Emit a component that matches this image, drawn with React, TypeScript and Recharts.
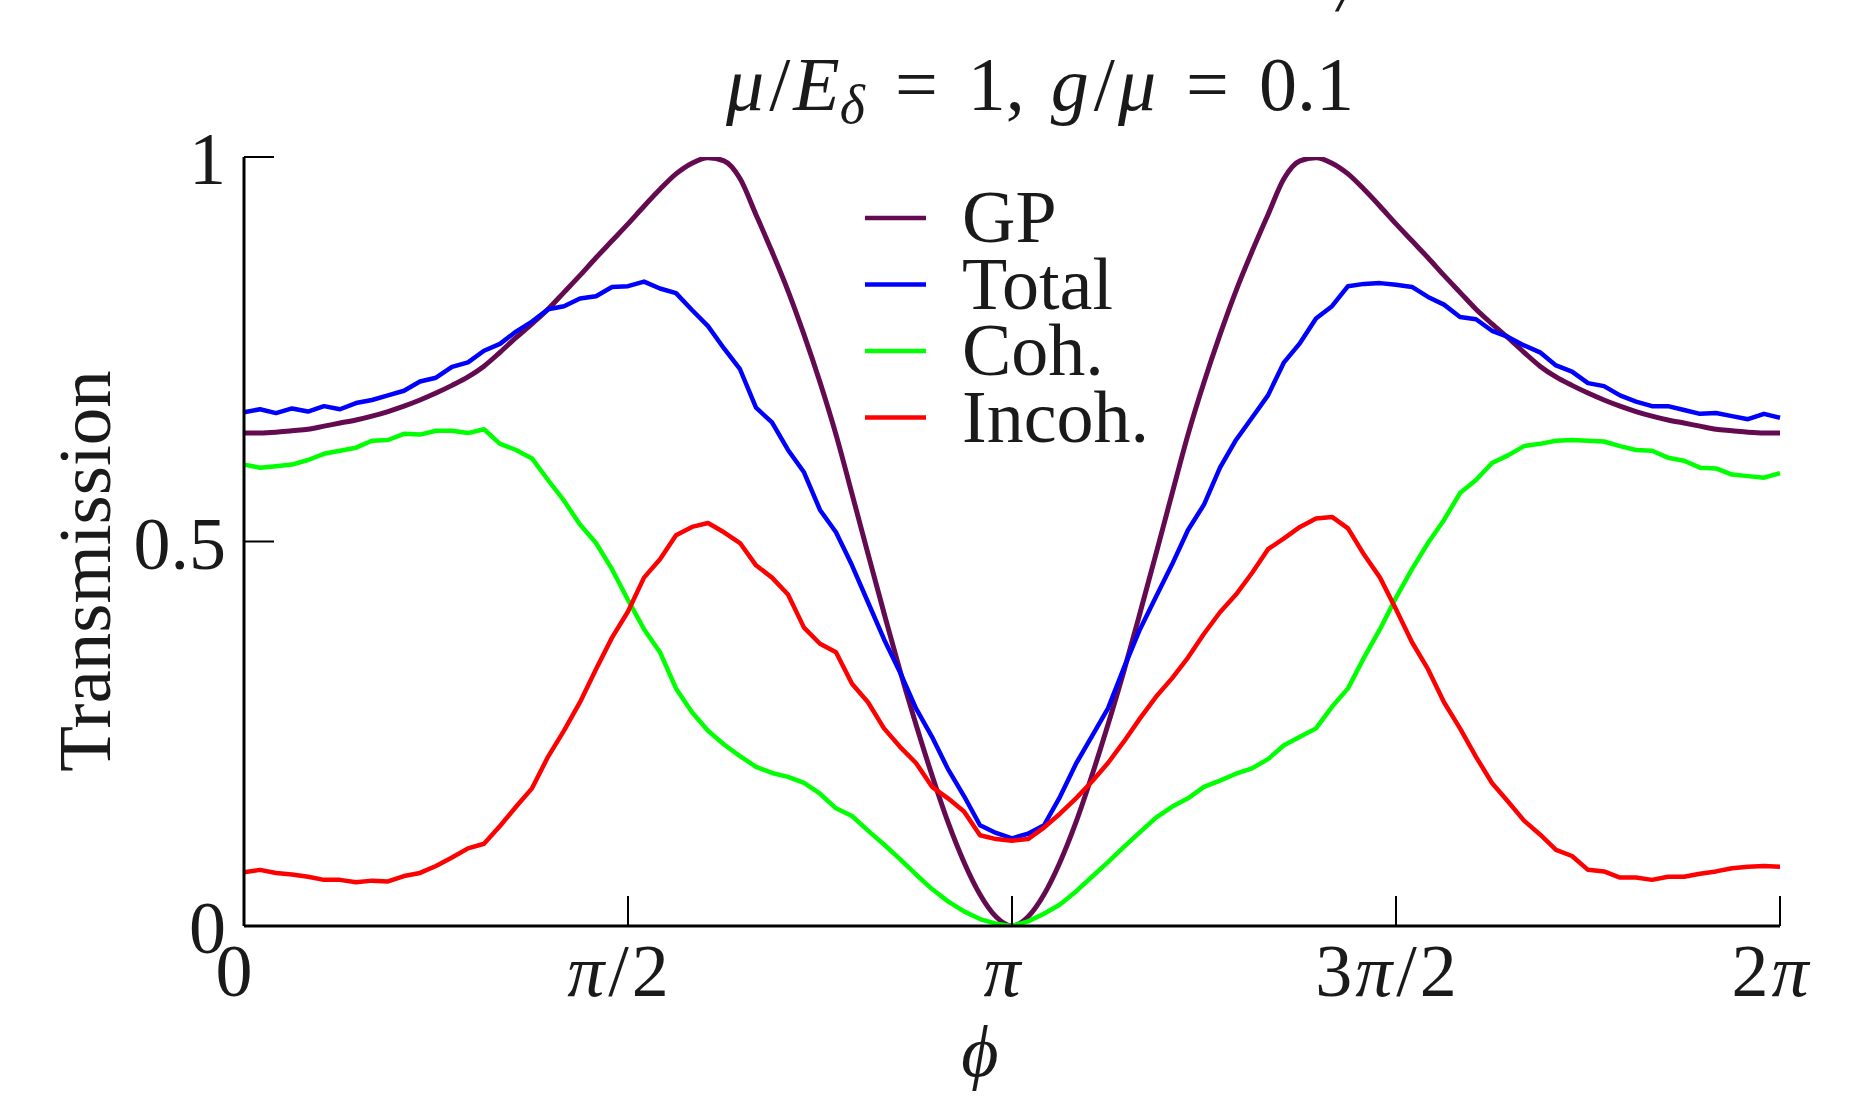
import { LineChart, Line, XAxis, YAxis, Legend } from 'recharts';

const FONT = '"Liberation Serif", "DejaVu Serif", serif';
const INK = '#1a1a1a';

// phase phi, in units of pi (0 .. 2)
const phi = Array.from({ length: 97 }, (_, i) => i / 48);

const gp = [
  0.641, 0.641, 0.642, 0.644, 0.646, 0.650, 0.654, 0.658, 0.663, 0.669,
  0.676, 0.684, 0.693, 0.703, 0.714, 0.728, 0.746, 0.765, 0.783, 0.802,
  0.824, 0.846, 0.869, 0.891, 0.913, 0.936, 0.958, 0.978, 0.992, 0.999,
  0.995, 0.972, 0.925, 0.877, 0.826, 0.769, 0.707, 0.639, 0.562, 0.484,
  0.407, 0.332, 0.262, 0.196, 0.135, 0.083, 0.041, 0.012, 0.000, 0.012,
  0.041, 0.083, 0.135, 0.196, 0.262, 0.332, 0.407, 0.484, 0.562, 0.639,
  0.707, 0.769, 0.826, 0.877, 0.925, 0.972, 0.995, 0.999, 0.992, 0.978,
  0.958, 0.936, 0.913, 0.891, 0.869, 0.846, 0.824, 0.802, 0.783, 0.765,
  0.746, 0.728, 0.714, 0.703, 0.693, 0.684, 0.676, 0.669, 0.663, 0.658,
  0.654, 0.650, 0.646, 0.644, 0.642, 0.641, 0.641,
];

const total = [
  0.668, 0.672, 0.667, 0.673, 0.669, 0.676, 0.672, 0.680, 0.684, 0.690,
  0.696, 0.708, 0.713, 0.727, 0.733, 0.748, 0.757, 0.773, 0.786, 0.802,
  0.806, 0.816, 0.819, 0.831, 0.832, 0.838, 0.829, 0.823, 0.801, 0.780,
  0.751, 0.724, 0.674, 0.655, 0.619, 0.590, 0.541, 0.512, 0.469, 0.421,
  0.373, 0.330, 0.283, 0.246, 0.204, 0.169, 0.131, 0.121, 0.114, 0.120,
  0.131, 0.168, 0.211, 0.247, 0.283, 0.336, 0.386, 0.428, 0.470, 0.515,
  0.548, 0.596, 0.632, 0.661, 0.690, 0.733, 0.758, 0.790, 0.806, 0.832,
  0.835, 0.836, 0.834, 0.831, 0.818, 0.808, 0.792, 0.789, 0.774, 0.766,
  0.755, 0.746, 0.729, 0.721, 0.706, 0.702, 0.690, 0.682, 0.676, 0.676,
  0.671, 0.666, 0.667, 0.663, 0.659, 0.666, 0.661,
];

const coh = [
  0.600, 0.596, 0.598, 0.600, 0.606, 0.614, 0.618, 0.622, 0.631, 0.632,
  0.640, 0.639, 0.644, 0.644, 0.641, 0.646, 0.627, 0.619, 0.608, 0.580,
  0.553, 0.522, 0.498, 0.464, 0.424, 0.386, 0.356, 0.309, 0.278, 0.254,
  0.236, 0.221, 0.207, 0.199, 0.194, 0.186, 0.172, 0.153, 0.143, 0.124,
  0.106, 0.087, 0.067, 0.048, 0.032, 0.019, 0.009, 0.003, 0.000, 0.006,
  0.016, 0.028, 0.045, 0.064, 0.083, 0.103, 0.122, 0.141, 0.155, 0.166,
  0.181, 0.189, 0.198, 0.205, 0.217, 0.235, 0.246, 0.257, 0.285, 0.309,
  0.349, 0.386, 0.427, 0.464, 0.498, 0.528, 0.563, 0.580, 0.602, 0.612,
  0.624, 0.627, 0.631, 0.632, 0.631, 0.630, 0.624, 0.619, 0.618, 0.609,
  0.605, 0.596, 0.595, 0.587, 0.585, 0.583, 0.589,
];

const incoh = [
  0.070, 0.073, 0.069, 0.067, 0.064, 0.060, 0.060, 0.057, 0.059, 0.058,
  0.065, 0.069, 0.078, 0.089, 0.101, 0.107, 0.130, 0.155, 0.179, 0.220,
  0.254, 0.291, 0.334, 0.375, 0.409, 0.453, 0.477, 0.508, 0.519, 0.524,
  0.512, 0.498, 0.469, 0.453, 0.431, 0.388, 0.367, 0.356, 0.315, 0.291,
  0.257, 0.233, 0.212, 0.181, 0.166, 0.149, 0.118, 0.113, 0.111, 0.113,
  0.128, 0.146, 0.166, 0.188, 0.212, 0.240, 0.270, 0.298, 0.322, 0.349,
  0.380, 0.408, 0.431, 0.459, 0.490, 0.504, 0.519, 0.530, 0.532, 0.517,
  0.483, 0.453, 0.412, 0.369, 0.334, 0.291, 0.257, 0.220, 0.186, 0.162,
  0.137, 0.119, 0.099, 0.091, 0.073, 0.071, 0.063, 0.063, 0.060, 0.064,
  0.064, 0.068, 0.071, 0.075, 0.077, 0.078, 0.077,
];

const xTicks = [0, 0.5, 1, 1.5, 2];
const xTickLabels = ['0', 'π/2', 'π', '3π/2', '2π'];
const yTicks = [0, 0.5, 1];
const yTickLabels = ['0', '0.5', '1'];

const series = [
  { key: 'gp', name: 'GP', color: '#640a50', width: 5 },
  { key: 'total', name: 'Total', color: '#0000ff', width: 4.5 },
  { key: 'coh', name: 'Coh.', color: '#00ff00', width: 4.5 },
  { key: 'incoh', name: 'Incoh.', color: '#ff0000', width: 4.5 },
];

const rows = phi.map((p, i) => ({ phi: p, gp: gp[i], total: total[i], coh: coh[i], incoh: incoh[i] }));

// pi in math italic, the rest upright; a little room round the slash
const mathLabel = (s: string) =>
  s.split(/(π|\/)/).filter(Boolean).map((part, i) => (
    <tspan key={i} fontStyle={part === 'π' ? 'italic' : 'normal'} dx={part === '/' ? 4 : i > 0 ? 3 : 0}>{part}</tspan>
  ));

const BottomTick = (props: any) => {
  const { x, y, payload } = props;
  const label = xTickLabels[xTicks.indexOf(payload.value)];
  return (
    <g>
      <line x1={x} y1={y} x2={x} y2={y - 30} stroke="#000" strokeWidth={2} />
      <text x={x - 10} y={y + 70} textAnchor="middle" fontSize={74} fontFamily={FONT} fill={INK}>
        {mathLabel(label)}
      </text>
    </g>
  );
};

const TopTick = (props: any) => {
  const { x, y } = props;
  return <line x1={x} y1={y} x2={x} y2={y + 30} stroke="#000" strokeWidth={2} />;
};

const LeftTick = (props: any) => {
  const { x, y, payload } = props;
  const label = yTickLabels[yTicks.indexOf(payload.value)];
  return (
    <g>
      <line x1={x} y1={y} x2={x + 30} y2={y} stroke="#000" strokeWidth={2} />
      <text x={x - 18} y={y + 27} textAnchor="end" fontSize={74} fontFamily={FONT} fill={INK}>
        {label}
      </text>
    </g>
  );
};

const RightTick = (props: any) => {
  const { x, y } = props;
  return <line x1={x} y1={y} x2={x - 30} y2={y} stroke="#000" strokeWidth={2} />;
};

const order = series.map((s) => s.name);

const KeyBox = ({ payload }: any) => {
  const items = [...(payload || [])].sort((a: any, b: any) => order.indexOf(a.value) - order.indexOf(b.value));
  return (
    <svg width={360} height={340}>
      {items.map((item: any, i: number) => {
        const cy = 68 + i * 66.5;
        return (
          <g key={item.value}>
            <line x1={15} y1={cy} x2={76} y2={cy} stroke={item.color} strokeWidth={4.5} />
            <text x={112} y={cy + 24} fontSize={74} fontFamily={FONT} fill={INK}>{item.value}</text>
          </g>
        );
      })}
    </svg>
  );
};

const axisStroke = { stroke: '#000', strokeWidth: 3 };

export default function App() {
  return (
    <div style={{ position: 'absolute', left: 0, top: 0, width: 1851, height: 1098, background: '#fff' }}>
      <LineChart width={1851} height={1098} data={rows} margin={{ top: 157, right: 71, bottom: 0, left: 0 }}>
        <XAxis xAxisId="b" dataKey="phi" type="number" domain={[0, 2]} ticks={xTicks} orientation="bottom"
          height={172} axisLine={axisStroke} tickLine={false} tickSize={0} tickMargin={0} tick={BottomTick} interval={0} />
        <XAxis xAxisId="t" dataKey="phi" type="number" domain={[0, 2]} ticks={xTicks} orientation="top"
          height={0} axisLine={axisStroke} tickLine={false} tickSize={0} tickMargin={0} tick={TopTick} interval={0} />
        <YAxis yAxisId="l" type="number" domain={[0, 1]} ticks={yTicks} orientation="left" width={244}
          axisLine={axisStroke} tickLine={false} tickSize={0} tickMargin={0} tick={LeftTick} interval={0} allowDataOverflow />
        <YAxis yAxisId="r" dataKey="gp" type="number" domain={[0, 1]} ticks={yTicks} orientation="right" width={0}
          axisLine={axisStroke} tickLine={false} tickSize={0} tickMargin={0} tick={RightTick} interval={0} allowDataOverflow />
        {series.map((s) => (
          <Line key={s.key} xAxisId="b" yAxisId="l" type={s.key === 'gp' ? 'monotone' : 'linear'} dataKey={s.key}
            name={s.name} stroke={s.color} strokeWidth={s.width} dot={false} activeDot={false}
            strokeLinejoin="round" isAnimationActive={false} legendType="line" />
        ))}
        <Legend layout="vertical" align="center" verticalAlign="middle" content={<KeyBox />}
          wrapperStyle={{ position: 'absolute', left: 850, top: 150, width: 360, height: 340 }} />
      </LineChart>
      <svg width={1851} height={1098} style={{ position: 'absolute', left: 0, top: 0, pointerEvents: 'none' }}>
        <text x={1338} y={10} fontSize={68} fontFamily={FONT} fontStyle="italic" fill={INK}>/</text>
        <text x={1040} y={110} textAnchor="middle" fontSize={76} fontFamily={FONT} fill={INK}>
          <tspan fontStyle="italic">μ</tspan>
          <tspan dx={5}>/</tspan>
          <tspan fontStyle="italic" dx={3}>E</tspan>
          <tspan fontStyle="italic" fontSize={54} dy={13}>δ</tspan>
          <tspan dy={-13} dx={30}>=</tspan>
          <tspan dx={30}>1,</tspan>
          <tspan fontStyle="italic" dx={26}>g</tspan>
          <tspan dx={5}>/</tspan>
          <tspan fontStyle="italic" dx={3}>μ</tspan>
          <tspan dx={30}>=</tspan>
          <tspan dx={30}>0.1</tspan>
        </text>
        <text x={110} y={571} transform="rotate(-90 110 571)" textAnchor="middle" fontSize={75} fontFamily={FONT} fill={INK}>
          Transmission
        </text>
        <text x={980} y={1076} textAnchor="middle" fontSize={72} fontFamily={FONT} fontStyle="italic" fill={INK}>ϕ</text>
      </svg>
    </div>
  );
}
